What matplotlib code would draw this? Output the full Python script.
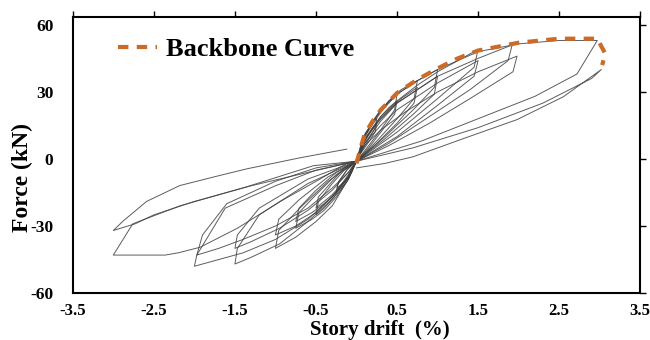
import matplotlib
matplotlib.use("Agg")
import matplotlib.pyplot as plt

plt.rcParams['font.family'] = ['Liberation Serif', 'DejaVu Serif']
plt.rcParams['font.weight'] = 'bold'

# backbone envelope
bb_x = [0.0, 0.05, 0.1, 0.2, 0.3, 0.5, 0.75, 1.0, 1.25, 1.5, 2.0, 2.5, 2.97, 3.07, 3.03]
bb_y = [-2, 5, 11, 17, 22, 29.5, 35.5, 40.5, 45, 48.5, 52, 53.8, 53.8, 47, 42]

# hysteresis cycles (drift %, force kN)
c1_x = [0.0, 0.05, 0.12, 0.2, 0.25, 0.23, 0.12, 0.0, -0.06, -0.14, -0.25, -0.23, -0.12, 0.0]
c1_y = [-1, 6, 12, 16, 18, 14, 7, 0, -6, -11, -15, -11, -5, -1]
c2_x = [0.0, 0.06, 0.13, 0.2, 0.25, 0.23, 0.12, 0.0, -0.06, -0.14, -0.24, -0.22, -0.1, 0.0]
c2_y = [-1, 5, 10, 14, 16, 12, 6, 0, -5, -10, -13, -10, -4, -1]

c3_x = [0.0, 0.1, 0.2, 0.3, 0.4, 0.5, 0.47, 0.3, 0.15, 0.0, -0.1, -0.2, -0.3, -0.4, -0.5, -0.47, -0.3, -0.15, 0.0]
c3_y = [-1, 10, 17, 22, 26, 29, 22, 13, 6, -1, -9, -14, -18, -22, -25, -19, -11, -5, -1]
c4_x = c3_x
c4_y = [-1, 8, 14, 19, 23, 26, 20, 12, 5, -1, -8, -12, -16, -19, -22, -17, -10, -4, -1]

c5_x = [0.0, 0.1, 0.25, 0.4, 0.55, 0.75, 0.71, 0.5, 0.25, 0.0, -0.1, -0.25, -0.4, -0.55, -0.75, -0.71, -0.5, -0.25, 0.0]
c5_y = [-1, 10, 19, 26, 31, 35, 27, 18, 8, -1, -9, -17, -23, -27, -31, -24, -16, -7, -1]
c6_x = c5_x
c6_y = [-1, 8, 16, 22, 27, 32, 25, 16, 7, -1, -8, -15, -20, -24, -28, -22, -14, -6, -1]

c7_x = [0.0, 0.1, 0.3, 0.5, 0.75, 1.0, 0.96, 0.7, 0.35, 0.0, -0.1, -0.3, -0.5, -0.75, -1.0, -0.96, -0.7, -0.35, 0.0]
c7_y = [-1, 10, 21, 29, 35, 40, 32, 22, 10, -1, -9, -21, -28, -35, -40, -32, -22, -10, -1]
c8_x = c7_x
c8_y = [-1, 7, 17, 25, 31, 37, 29, 20, 9, -1, -7, -17, -24, -30, -34, -27, -18, -8, -1]

c9_x = [0.0, 0.1, 0.3, 0.5, 0.75, 1.0, 1.25, 1.5, 1.45, 1.0, 0.5, 0.0, -0.1, -0.3, -0.6, -0.95, -1.3, -1.5, -1.47, -1.2, -0.6, 0.0]
c9_y = [-1, 9, 19, 26, 33, 39, 44, 49, 41, 27, 12, -1, -8, -18, -28, -38, -44, -47, -40, -25, -11, -1]
c10_x = c9_x
c10_y = [-1, 7, 15, 22, 28, 34, 39, 44, 37, 24, 10, -1, -6, -14, -23, -31, -37, -40, -34, -22, -9, -1]

c11_x = [0.0, 0.1, 0.3, 0.5, 0.75, 1.0, 1.5, 1.92, 1.87, 1.4, 0.9, 0.4, 0.0, -0.1, -0.3, -0.6, -1.0, -1.4, -1.7, -2.0, -1.97, -1.62, -1.0, -0.5, 0.0]
c11_y = [-1, 9, 18, 25, 31, 37, 45, 51, 44, 31, 19, 7, -1, -8, -17, -27, -36, -42, -45, -48, -43, -22, -12, -5, -1]
c12_x = [0.0, 0.1, 0.3, 0.6, 1.0, 1.5, 1.98, 1.93, 1.4, 0.9, 0.4, 0.0, -0.1, -0.3, -0.6, -1.0, -1.4, -1.7, -1.97, -1.9, -1.6, -1.0, -0.5, 0.0]
c12_y = [-1, 6, 13, 21, 30, 39, 46, 39, 27, 16, 6, -1, -6, -13, -22, -30, -36, -40, -43, -34, -20, -10, -4, -1]

c13_x = [0.0, 0.1, 0.3, 0.5, 0.75, 1.0, 1.5, 2.0, 2.5, 2.97, 2.72, 2.2, 1.5, 0.8, 0.0, -0.12, -0.45, -0.94, -1.47, -1.93, -2.2, -2.36, -3.0, -2.76, -2.18, -1.35, -0.53, 0.0]
c13_y = [-1, 11, 22, 29, 35, 40, 48, 51.5, 53, 53, 38, 28, 18, 8, -1, -2, -9, -19, -31, -39.5, -42, -43, -43, -29, -21, -12.4, -3, -1]
c14_x = [0.0, 0.35, 0.7, 1.31, 1.98, 2.55, 3.02, 2.9, 2.3, 1.5, 0.7, 0.0, -0.6, -1.3, -2.0, -2.5, -2.73, -3.0, -2.88, -2.59, -2.18, -1.7, -1.35, -0.7, -0.12]
c14_y = [-4, -2, 1, 9, 17.6, 27.8, 40, 36, 25, 14, 5, -1, -6, -12, -19, -25, -29, -32, -27.8, -19, -11.9, -7.5, -4.4, 0.5, 4.4]

cycles = [(c1_x, c1_y), (c2_x, c2_y), (c3_x, c3_y), (c4_x, c4_y), (c5_x, c5_y),
          (c6_x, c6_y), (c7_x, c7_y), (c8_x, c8_y), (c9_x, c9_y), (c10_x, c10_y),
          (c11_x, c11_y), (c12_x, c12_y), (c13_x, c13_y), (c14_x, c14_y)]

xticks = [-3.5, -2.5, -1.5, -0.5, 0.5, 1.5, 2.5, 3.5]
yticks = [-60, -30, 0, 30, 60]

fig = plt.figure(figsize=(6.5, 3.4), dpi=100)
ax = fig.add_axes([0.112, 0.138, 0.873, 0.812])

for cx, cy in cycles:
    ax.plot(cx, cy, color='#404040', lw=0.7, alpha=0.85)

ax.plot(bb_x, bb_y, color='#CC6A28', lw=3, dashes=(2.5, 2), label='Backbone Curve', zorder=5)

ax.set_xlim(-3.5, 3.5)
ax.set_ylim(-60, 63.5)
ax.set_xticks(xticks)
ax.set_yticks(yticks)
ax.set_xticklabels([str(t) for t in xticks], fontsize=12, fontweight='bold')
ax.set_yticklabels([str(t) for t in yticks], fontsize=12.5, fontweight='bold')
ax.tick_params(bottom=False, left=False, top=True, right=True, direction='out', length=4, width=1)
ax.tick_params(axis='x', pad=3)
ax.tick_params(axis='y', pad=10)
for s in ax.spines.values():
    s.set_linewidth(1.5)

ax.legend(loc='center left', bbox_to_anchor=(0.079, 0.882), frameon=False,
          borderpad=0, borderaxespad=0, handlelength=1.5, handletextpad=0.35,
          prop={'family': 'Liberation Serif', 'weight': 'bold', 'size': 19})

fig.text(0.585, 0.0, 'Story drift  (%)', ha='center', va='bottom', fontsize=15, fontweight='bold')
fig.text(0.034, 0.479, 'Force (kN)', ha='center', va='center', rotation=90, fontsize=17, fontweight='bold')

fig.savefig('out.png', dpi=100)
